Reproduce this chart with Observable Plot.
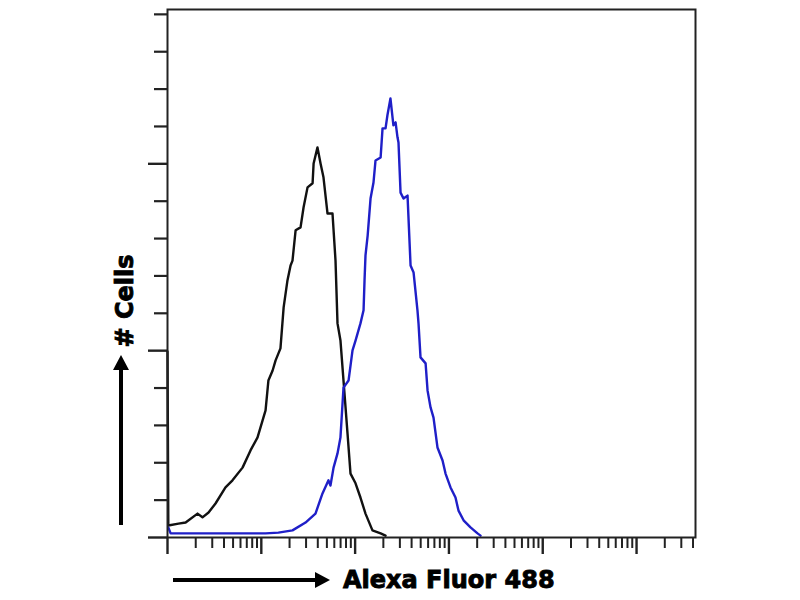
<!DOCTYPE html>
<html>
<head>
<meta charset="utf-8">
<script src="https://cdn.jsdelivr.net/npm/d3@7"></script>
<script src="https://cdn.jsdelivr.net/npm/@observablehq/plot@0.6"></script>
<style>
  html, body { margin: 0; padding: 0; background: #fff; }
  #chart svg { display: block; }
</style>
</head>
<body>
<div id="chart"></div>
<script>
// Control (isotype) histogram - black
const blackX = [1, 1.02, 1.31, 1.56, 2.09, 2.36, 2.74, 3.25, 4.15, 4.93, 6.31, 7.67, 9.12, 10.3, 11.1, 11.9, 13.2, 14.2, 16.0, 17.3, 19.0, 20.5, 21.5, 23.2, 26.2, 28.2, 31.1, 35.2, 36.1, 39.7, 42.8, 46.0, 50.8, 57.4, 61.8, 64.9, 69.8, 75.2, 83.0, 89.3, 101, 114, 129, 153, 187, 211];
const blackY = [49.8, 3.2, 3.7, 4.0, 6.4, 5.4, 6.7, 9.1, 13.4, 15.3, 18.7, 23.3, 26.8, 31.3, 34.0, 42.0, 44.7, 47.4, 50.6, 61.6, 68.8, 72.8, 74.1, 82.2, 83.0, 88.3, 93.7, 94.8, 100.1, 104.4, 100.1, 96.4, 86.7, 86.7, 74.1, 57.3, 52.7, 42.0, 27.8, 17.1, 14.5, 10.7, 6.4, 1.9, 1.1, 0.5];

// Stained histogram - blue
const blueX = [1.02, 1.08, 4.93, 8.05, 11.1, 15.2, 21.5, 29.6, 37.8, 44.9, 52.0, 54.6, 58.9, 64.9, 69.8, 75.2, 85.1, 93.8, 101, 114, 123, 126, 129, 136, 146, 157, 165, 187, 196, 211, 221, 238, 251, 256, 270, 283, 290, 305, 328, 362, 390, 420, 462, 474, 498, 564, 592, 637, 685, 755, 855, 920, 1040, 1175, 1265, 1432, 1698, 2018, 2173];
const blueY = [2.7, 1.1, 1.1, 1.1, 1.1, 1.3, 1.9, 4.0, 6.4, 11.8, 15.3, 13.9, 18.7, 22.5, 26.8, 40.1, 42.0, 50.1, 52.7, 57.3, 60.8, 68.8, 75.5, 80.8, 90.7, 95.0, 100.9, 101.7, 109.5, 109.5, 113.0, 117.5, 112.2, 110.3, 111.1, 107.1, 105.7, 92.3, 90.7, 91.5, 72.8, 70.9, 60.8, 57.3, 48.2, 46.6, 39.3, 34.8, 32.1, 24.1, 20.6, 17.1, 13.4, 10.7, 7.2, 4.6, 2.7, 1.1, 0.5];

// Axis ticks
const xDecades = [1, 10, 100, 1000, 10000, 100000];
const xMinorSteps = [2, 3, 4, 5, 6, 7, 8, 9];
const xMax = 425000;
const yMajorTicks = [0, 50, 100];
const yMinorTicks = [10, 20, 30, 40, 60, 70, 80, 90, 110, 120, 130, 140];
const xLabel = "Alexa Fluor 488";
const yLabel = "# Cells";

const xMinorTicks = xDecades.flatMap(d => xMinorSteps.map(k => k * d)).filter(v => v <= xMax);
const black = blackX.map((x, i) => ({x, y: blackY[i]}));
const blue = blueX.map((x, i) => ({x, y: blueY[i]}));

const noText = () => "";
const plot = Plot.plot({
  width: 800,
  height: 600,
  marginLeft: 167,
  marginRight: 105,
  marginTop: 9,
  marginBottom: 63,
  x: {type: "log", domain: [1, xMax]},
  y: {domain: [0, 141.3]},
  style: {background: "#fff"},
  marks: [
    Plot.axisX({ticks: xMinorTicks, tickSize: 11, tickFormat: noText, label: null, strokeWidth: 2, stroke: "#222"}),
    Plot.axisX({ticks: xDecades, tickSize: 17, tickFormat: noText, label: null, strokeWidth: 2.4, stroke: "#222"}),
    Plot.axisY({ticks: yMinorTicks, tickSize: 13, tickFormat: noText, label: null, strokeWidth: 2.2, stroke: "#222"}),
    Plot.axisY({ticks: yMajorTicks, tickSize: 19, tickFormat: noText, label: null, strokeWidth: 2.4, stroke: "#222"}),
    Plot.line(black, {x: "x", y: "y", stroke: "#111", strokeWidth: 2.4}),
    Plot.line(blue, {x: "x", y: "y", stroke: "#1f1fc8", strokeWidth: 2.4}),
    Plot.frame({stroke: "#222", strokeWidth: 2})
  ]
});

const svg = d3.select(plot);
const font = "'DejaVu Sans', sans-serif";

// x label with arrow
svg.append("line").attr("x1", 173).attr("x2", 318).attr("y1", 580).attr("y2", 580)
  .attr("stroke", "#000").attr("stroke-width", 4);
svg.append("path").attr("d", "M330,580 L315,572 L315,588 Z").attr("fill", "#000");
svg.append("text").attr("x", 343).attr("y", 588)
  .attr("text-anchor", "start")
  .attr("font-family", font).attr("font-weight", "bold").attr("font-size", 24)
  .attr("fill", "#000").attr("stroke", "#000").attr("stroke-width", 0.9)
  .text(xLabel);

// y label with arrow
svg.append("line").attr("x1", 121).attr("x2", 121).attr("y1", 525).attr("y2", 368)
  .attr("stroke", "#000").attr("stroke-width", 4);
svg.append("path").attr("d", "M121,355 L113,370 L129,370 Z").attr("fill", "#000");
svg.append("text").attr("transform", "translate(133,301) rotate(-90)")
  .attr("text-anchor", "middle")
  .attr("font-family", font).attr("font-weight", "bold").attr("font-size", 24)
  .attr("fill", "#000").attr("stroke", "#000").attr("stroke-width", 0.9)
  .text(yLabel);

document.getElementById("chart").appendChild(plot);
</script>
</body>
</html>
